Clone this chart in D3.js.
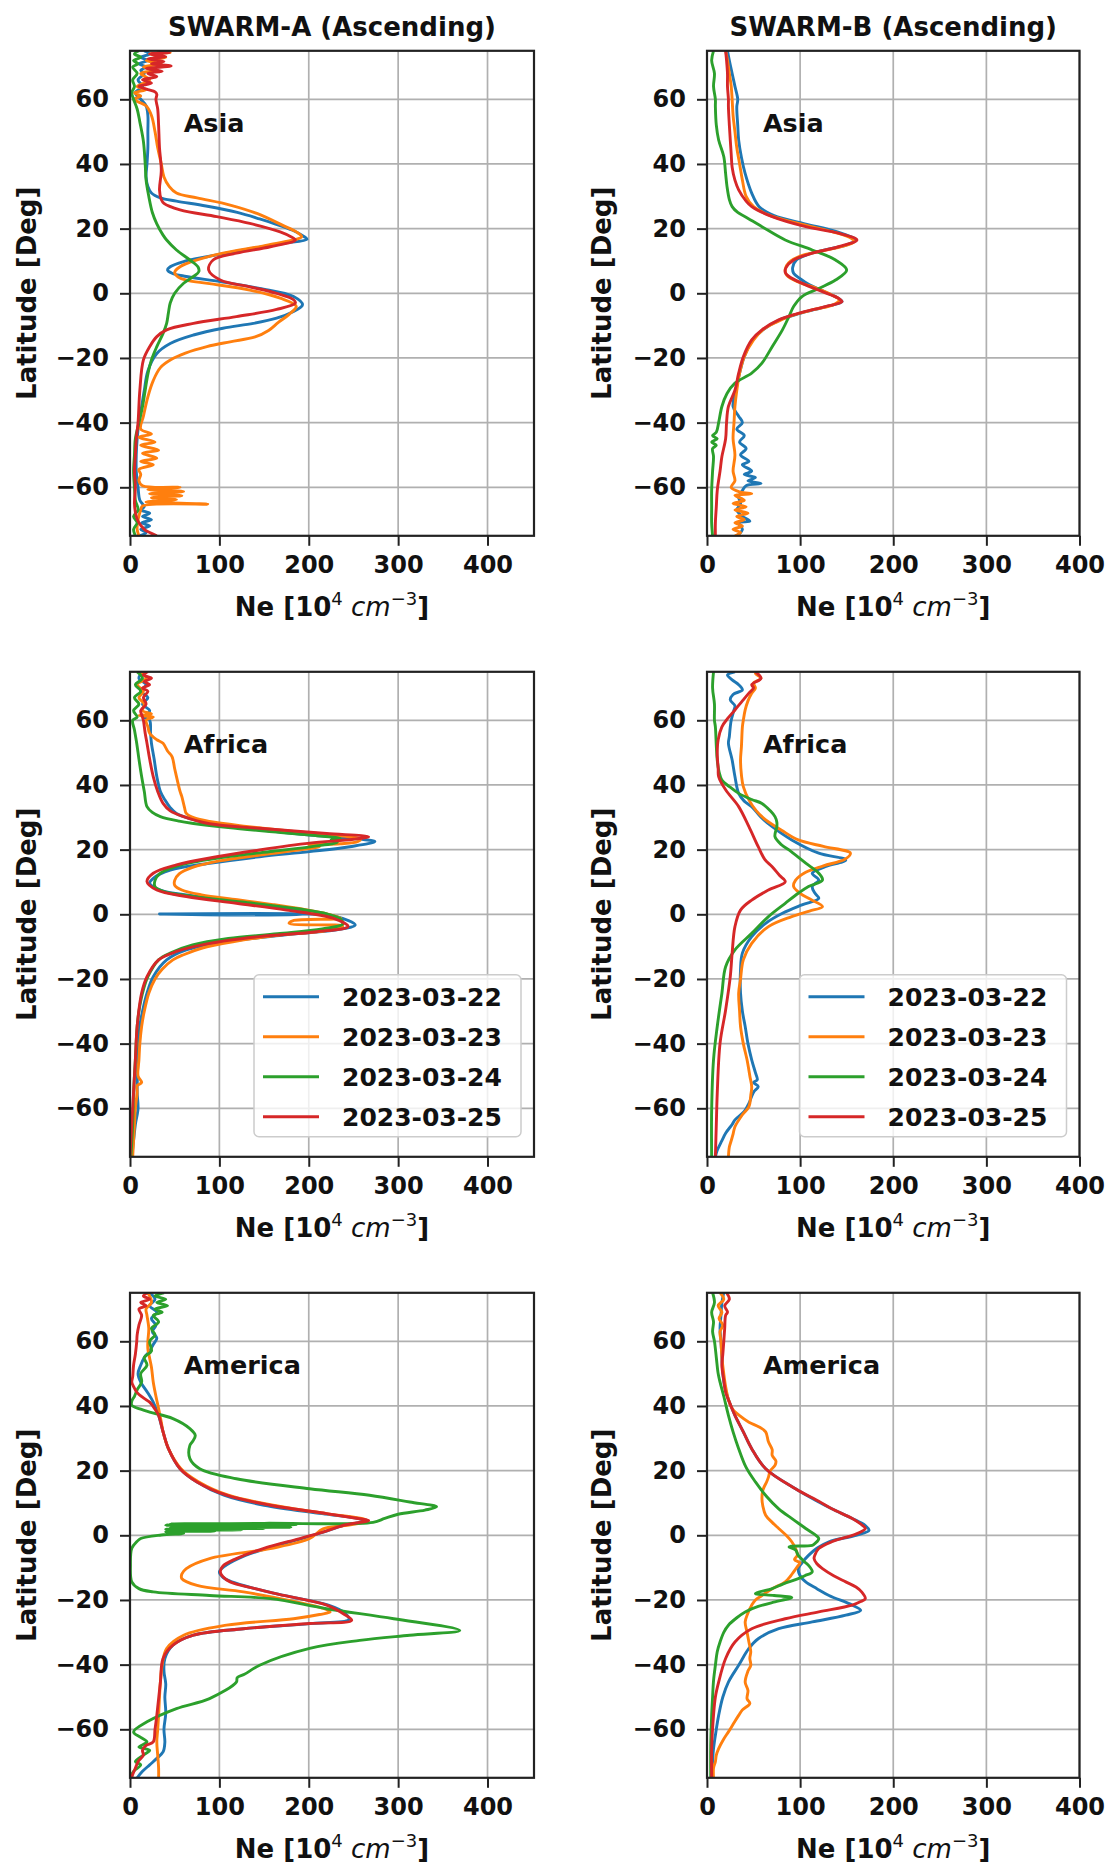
<!DOCTYPE html>
<html>
<head>
<meta charset="utf-8">
<style>
  body { margin: 0; background: #fff; }
  svg { display: block; font-family: 'DejaVu Sans', sans-serif; }
  .tick text { font: bold 24px 'DejaVu Sans', sans-serif; fill: #111; }
  .tick line { stroke: #222; stroke-width: 2; }
  .grid line { stroke: #b0b0b0; stroke-width: 1.7; }
  .frame { fill: none; stroke: #222; stroke-width: 2.2; }
  .title { font-size: 26px; font-weight: bold; fill: #111; }
  .axis-label { font-size: 26px; font-weight: bold; fill: #111; }
  .region { font-size: 25.5px; font-weight: bold; fill: #111; }
  .legend-label { font-size: 25px; font-weight: bold; fill: #111; }
</style>
</head>
<body>
<svg width="1112" height="1868"></svg>

<script src="https://d3js.org/d3.v7.min.js"></script>
<script>

// ---- data: [latitude (deg), Ne (1e4 cm^-3)] ----
const dates = ["2023-03-22", "2023-03-23", "2023-03-24", "2023-03-25"];
const colors = ["#1f77b4", "#ff7f0e", "#2ca02c", "#d62728"];
const latTicks = [-60, -40, -20, 0, 20, 40, 60];
const neTicks = [0, 100, 200, 300, 400];
const satellites = ["SWARM-A (Ascending)", "SWARM-B (Ascending)"];
const regions = ["Asia", "Africa", "America"];

// SWARM-A, Asia
const asiaA22 = [[75,16],[74,22],[73,12],[72,20],[71,10],[70,18],[69,12],[68,16],[66,9],[64,14],[62,6],[60,12],[58,18],[55,20],[50,20],[45,20],[40,19],[36,18],[33,20],[31,24],[29.5,34],[28.5,52],[27,85],[25,120],[23,145],[21.5,162],[19.5,182],[17.5,195],[16.7,198],[15.5,172],[14.5,150],[13,119],[11.3,86],[9.8,60],[8.2,45],[7.2,42],[6.2,47],[5.2,63],[3.6,101],[1.5,145],[-1,183],[-3.6,193],[-6,180],[-7.7,164],[-9.3,138],[-10.8,104],[-12.9,71],[-15.5,45],[-18.6,30],[-24,20],[-30,16],[-35,13],[-40,10],[-45,8],[-50,7],[-55,7],[-60,9],[-64,11],[-66,16],[-67,12],[-68,22],[-69,14],[-70,24],[-71,13],[-72,22],[-73,12],[-74,18],[-75,10]];
const asiaA23 = [[75,30],[74.5,45],[74,22],[73,40],[72,18],[71,35],[70,15],[69,28],[68,12],[66,22],[64,8],[63,18],[62,5],[61,12],[60,4],[58,18],[55,24],[50,28],[45,31],[40,35],[36,38],[33,44],[31,52],[29.5,75],[27.3,112],[24.7,142],[21,171],[19,186],[17.5,192],[15,155],[12.4,104],[10.3,75],[8.2,56],[6.5,50],[5,54],[4,64],[3,89],[1,134],[-1.5,168],[-4,186],[-6.5,178],[-9,166],[-11.5,155],[-13.5,140],[-15,112],[-16.5,86],[-18.5,62],[-20.5,46],[-23,34],[-27,26],[-32,20],[-38,15],[-42,12],[-43.5,24],[-44.5,10],[-46,28],[-47,12],[-48.5,32],[-49.5,14],[-51,30],[-52,12],[-53,26],[-54.5,10],[-56,12],[-58,10],[-59.5,14],[-60,56],[-60.7,20],[-61.3,60],[-62,22],[-62.6,58],[-63.2,24],[-63.8,52],[-64.5,18],[-65.2,87],[-65.8,14],[-67,12],[-70,9],[-73,8],[-75,10]];
const asiaA24 = [[75,10],[74,5],[73,12],[72,4],[71,9],[70,3],[68,8],[66,3],[64,5],[62,2],[60,4],[57,8],[53,11],[47,15],[40,17],[35,18],[30,21],[25,25],[21.5,30],[18,37],[16.5,41],[13.4,52],[10.3,67],[8.2,76],[6.7,77],[5.2,71],[3.1,60],[0,50],[-3,45],[-6,43],[-9.3,41],[-12.4,37],[-16.5,30],[-20.6,24],[-25,20],[-30,17],[-35,14],[-40,10],[-45,6],[-50,5],[-55,4],[-60,5],[-64,6],[-67,9],[-69,4],[-71,8],[-73,4],[-75,6]];
const asiaA25 = [[75,32],[74.5,44],[74,22],[73.2,40],[72.5,20],[71.7,38],[71,24],[70.3,46],[69.5,18],[68.7,36],[68,20],[67,30],[66,14],[65,24],[64,10],[63,20],[62.3,28],[61.5,30],[60,29],[57,31],[52,32],[45,33],[38,35],[32,33],[29,35],[27.8,38],[25.8,56],[23.7,97],[21.6,134],[19,168],[17.5,180],[16.5,185],[14.4,157],[12.4,119],[10.3,93],[7.2,88],[4.1,101],[2,134],[0,164],[-2,183],[-3,185],[-5,164],[-7.2,119],[-9.3,71],[-11.3,41],[-13.4,30],[-16.5,22],[-20.6,15],[-30,11],[-40,9],[-45,7],[-50,6],[-55,5],[-60,6],[-65,5],[-69,7],[-71,10],[-73,16],[-74,22],[-75,30]];

// SWARM-B, Asia
const asiaB22 = [[75,22],[72,24],[68,27],[64,30],[60,33],[57.7,32],[52,33],[47.4,34],[42,37],[37,41],[31,48],[26.8,56],[24,72],[21.5,105],[19,140],[17,158],[16.5,160],[15,150],[13.5,128],[12,108],[10.3,96],[8,92],[6.2,93],[4.5,100],[2.6,110],[0.5,126],[-1.5,141],[-2.6,145],[-4.1,128],[-6.2,100],[-8.2,78],[-11.3,60],[-14.4,49],[-19.6,40],[-24.7,35],[-30,31],[-35,28],[-38,34],[-40,38],[-42,32],[-44,40],[-46,35],[-48,42],[-50,36],[-52,45],[-53,38],[-55,48],[-56,40],[-57,52],[-58,44],[-58.8,58],[-59.5,42],[-61,38],[-63,34],[-65,36],[-67,32],[-69,38],[-70.5,46],[-71,34],[-73,38],[-75,32]];
const asiaB23 = [[75,20],[72,22],[68,24],[64,26],[60,27],[55,28],[50,30],[45,32],[40,35],[35,38],[30,42],[26.8,50],[24,68],[21.5,100],[19,135],[17,155],[16,158],[14.5,145],[13,122],[11.5,100],[9.5,88],[7.5,84],[5.5,86],[3.5,98],[1.5,118],[-0.5,134],[-2,142],[-3.5,136],[-5,115],[-7,90],[-9,74],[-11.3,60],[-14.4,50],[-19.6,40],[-24.7,35],[-30,32],[-35,30],[-40,29],[-45,28],[-50,30],[-55,28],[-58,30],[-60,26],[-61.5,36],[-62,48],[-62.5,30],[-64,40],[-65,28],[-66,42],[-67,30],[-68,44],[-69,32],[-70,40],[-71,30],[-72,38],[-73,28],[-74,36],[-75,30]];
const asiaB24 = [[75,7],[72,5],[68,8],[64,7],[60,9],[57.7,9],[52,10],[47.4,12.5],[42.3,18],[37,20],[33,21.5],[29,24],[26.8,27],[25,33],[23.7,41],[20.6,59],[16.5,84],[13.4,113],[10.3,138],[7.2,150],[4.1,138],[1.5,120],[-1,102],[-4.1,93],[-7.2,88],[-11.3,81],[-16.5,70],[-21.6,59],[-24.7,48],[-27.8,30],[-31,21.5],[-35,16],[-40,12.5],[-43,10],[-44,6],[-45,11],[-46,5],[-47,10],[-48,6],[-50.5,7],[-55,6],[-61,5],[-66,5],[-71,5],[-75,6]];
const asiaB25 = [[75,20],[72,21],[68,22],[64,22],[60,23],[57.7,23],[52,24],[47.4,25],[43,26],[39,27],[35,30],[32,34],[28.5,42],[26.8,48],[23.7,70],[20.6,106],[18.6,141],[16.5,161],[14.4,141],[12.4,113],[10.3,93],[8,85],[6.5,84],[5.2,88],[2.6,106],[0.5,124],[-1.5,141],[-2.6,145],[-4.1,127],[-6.2,98],[-8.2,77],[-11.3,59],[-14.4,48],[-19.6,39],[-24.7,34],[-30,30],[-35,23],[-40,21],[-45,20],[-50.5,16],[-55,14],[-61,11],[-66,10],[-71,9],[-75,9]];

// SWARM-A, Africa
const africaA22 = [[75,14],[73,10],[71,18],[69,12],[67,20],[65,14],[63,22],[61,16],[60,22],[56,23],[52.9,24],[48,27],[42.6,30],[38,34],[35.4,39],[33,45],[31.2,52],[29.5,68],[28.1,89],[26.1,145],[24.5,201],[23.5,246],[22.5,274],[20.9,246],[19.4,201],[17.8,145],[15.8,89],[13.7,45],[11.1,26],[9.6,22],[7.5,34],[5.5,75],[3.4,134],[1.3,186],[0.15,200],[0.1,33],[0.05,204],[-0.7,231],[-3.3,252],[-4.8,231],[-6.4,172],[-8.5,108],[-11,63],[-14.1,41],[-19.3,26],[-24.4,19],[-30,14],[-34.7,11],[-45,9],[-55,8],[-60,9],[-65,6],[-70,4],[-75,2]];
const africaA23 = [[75,12],[73,18],[71,8],[69,15],[67,10],[65,16],[63,14],[62,24],[61.5,10],[61,26],[60,18],[58,20],[56,22],[54,30],[52.9,37],[50.5,42],[48.8,47],[45,50],[42.6,52],[38,56],[36.4,58],[33,61],[31.2,63],[29.8,72],[28.7,89],[27.2,130],[26,170],[25,210],[24,245],[23.3,258],[22.5,255],[21.8,235],[21.5,200],[21,212],[20,192],[18.5,150],[16.5,100],[14.5,70],[12.5,55],[10.5,50],[9,50],[7.5,58],[6,80],[4.5,120],[3,160],[1.5,195],[0,222],[-1.2,236],[-2,182],[-2.8,178],[-3.6,238],[-5,220],[-6.5,165],[-8.5,115],[-10.5,80],[-12.5,60],[-14.1,48],[-17,36],[-20,28],[-24.4,21],[-30,16],[-34.7,13],[-40,11],[-45,10],[-50,9],[-52,13],[-53,8],[-55,8],[-60,6],[-65,5],[-70,4],[-75,3]];
const africaA24 = [[75,8],[73,14],[71,6],[69,12],[67,5],[65,10],[63,4],[61,8],[60,3],[57,5],[52.9,7.5],[48,10],[42.6,13],[38,16],[33.3,19],[31.5,25],[30.2,34],[28.8,55],[28.1,71],[26.8,110],[25.5,160],[24.3,210],[23.5,235],[23,225],[22.3,232],[21,205],[19.5,160],[18,115],[16.3,75],[14.5,48],[12.5,33],[10.5,28],[8.5,28],[7,38],[5.5,70],[3.8,125],[2,180],[0,222],[-1.5,236],[-3,238],[-4.5,215],[-6,165],[-7.5,110],[-9.5,70],[-12,45],[-14.1,32],[-19.3,20],[-24.4,14],[-30,10],[-34.7,8],[-45,6],[-55,4],[-65,3],[-75,1]];
const africaA25 = [[75,20],[74,15],[73,24],[72,16],[71,22],[70,14],[69,20],[67,15],[65,18],[63,12],[61,14],[60,15],[56,17],[52.9,19],[48,22],[42.6,26],[38,31],[34.3,37],[32,45],[30.2,60],[28,89],[26.6,145],[25,220],[24,267],[23.2,250],[22,201],[19.9,145],[17.8,97],[15.3,52],[12.7,26],[10.1,19],[7.5,30],[5.5,63],[3.4,119],[1.3,175],[-1.2,227],[-3.8,244],[-5.4,209],[-6.9,145],[-9,89],[-11.5,52],[-14.1,32],[-19.3,19],[-24.4,13],[-34.7,8],[-45,6],[-55,4],[-65,2],[-75,0]];

// SWARM-B, Africa
const africaB22 = [[75,30],[74,22],[72.5,27],[71,34],[69.4,38],[68,28],[66.3,25],[64.5,30],[63.2,29],[60,26],[58,25],[55,24],[52.9,23],[47.7,27],[42.6,30],[37.4,34],[35,40],[33.3,48],[30,58],[27.1,70],[23,91],[18.9,120],[16.8,149],[14.7,127],[12.7,113],[10.6,120],[8.6,113],[6.5,116],[4.9,120],[2.9,102],[0.3,81],[-2.8,63],[-6.9,48],[-12,38],[-17.2,36],[-24.4,36],[-30,38],[-34.7,41],[-40,44],[-45,48],[-49,52],[-51.2,54],[-52,50],[-53.3,55],[-55,50],[-58.5,45],[-61,40],[-63.6,30],[-65,27],[-67.7,20],[-70,16],[-73,11],[-75,9]];
const africaB23 = [[75,55],[74.5,52],[73,58],[71.5,50],[70,52],[68.4,48],[66,44],[63.2,41],[60,39],[58,38],[52,37],[47.7,36],[43,37],[39.5,39],[35.4,45],[32,53],[29.2,63],[26,80],[23,98],[21,125],[18.9,154],[17,148],[15,125],[13,106],[10.5,95],[8.6,93],[6.5,100],[4.5,112],[2.4,124],[1,110],[-0.7,91],[-3.8,66],[-9,48],[-14.1,39],[-20,36],[-24.4,34],[-30,35],[-34.7,36],[-40,39],[-45,43],[-50,46],[-53.3,48],[-56,47],[-59.5,45],[-62,38],[-65.7,30],[-68,28],[-70,26],[-72,24],[-75,23]];
const africaB24 = [[75,7],[70,6],[65,8],[60,8],[58,9],[52,10],[47.7,11],[44,13],[41.5,16],[39.5,24],[37.4,34],[35.5,48],[34.3,59],[32,68],[30.2,73],[28.5,75],[27.1,75],[24,73],[21.5,80],[19.9,88],[15.8,106],[12.7,120],[10.6,124],[8.6,109],[6.5,98],[3.4,84],[-0.7,66],[-5.9,48],[-11,30],[-16.2,20],[-24.4,16],[-34.7,11],[-45,7],[-60.5,5],[-75,5]];
const africaB25 = [[75,52],[73,58],[71,48],[70,50],[68.4,45],[66,38],[63.2,30],[60.5,22],[58,16],[54,12],[49.8,11],[45,12],[42.6,12.5],[38.5,20],[33.3,34],[27.1,45],[20.9,55],[17,62],[14.7,70],[12,78],[10.1,84],[7.5,66],[4.4,48],[1.3,36],[-3.8,30],[-12,27],[-19.3,25],[-29.6,20],[-39.9,14],[-55.4,11],[-65,10],[-75,9]];

// SWARM-A, America
const americaA22 = [[75,22],[73,28],[71,22],[69,30],[67,24],[65,29],[63,25],[61,30],[59,26],[57,22],[55,16],[52.6,12],[50,9],[47.4,12],[44,20],[41.2,26],[37.1,32],[32,37],[26.8,43],[20.6,56],[16.5,75],[12.4,105],[9.3,150],[6.7,215],[5,258],[4.4,262],[3.1,239],[1,216],[-1,192],[-4.1,152],[-7.2,121],[-9.5,106],[-11.3,100],[-13,104],[-14.4,114],[-16.5,140],[-18.6,172],[-21.6,222],[-24,240],[-26,245],[-27.3,201],[-28.9,127],[-30.9,71],[-34,48],[-38.1,39],[-42,38],[-46,40],[-50,39],[-55,40],[-60,38],[-64,39],[-67,37],[-69,30],[-71,22],[-73,14],[-75,8]];
const americaA23 = [[75,20],[72,24],[70,18],[68,19],[64,21],[60,20],[57.7,20],[52,24],[47.4,26],[43,29],[39.2,32],[35,35],[32,37],[26.8,43],[20.6,57],[16.5,77],[12.4,110],[9.3,160],[6.7,220],[5,262],[4.4,266],[3,240],[2,216],[-1,201],[-4.1,157],[-7.2,89],[-10.3,63],[-12,58],[-13.4,58],[-15.5,75],[-17.5,127],[-20.6,186],[-22.5,215],[-23.7,224],[-24.5,212],[-25.8,183],[-27.8,108],[-30.9,60],[-35,41],[-40,36],[-45.4,34],[-50,33],[-55.7,32],[-60,31],[-63.9,30],[-68,31],[-72,32],[-75,32]];
const americaA24 = [[75,38],[74,28],[73,40],[72,30],[71,42],[70,28],[69,36],[68,26],[66,32],[64,24],[62,28],[60,22],[57,24],[55,16],[52.6,19],[50,12],[47.4,13],[45,8],[43,5],[41.5,2],[40.2,2],[39,12],[38.1,22],[36.1,48],[33,67],[30.9,73],[29,70],[27.8,67],[23.7,67],[20.6,78],[17.5,119],[14.4,201],[12.4,268],[10.3,313],[8.8,343],[7.8,330],[6.5,300],[5.2,285],[4,272],[3.7,150],[3.5,45],[3.3,186],[3.1,40],[2.9,170],[2.7,50],[2.5,180],[2.3,45],[2.1,150],[1.9,40],[1.7,125],[1.5,50],[1.3,95],[1.1,40],[0.6,60],[0.1,35],[-1,12],[-2,7.5],[-4,2],[-9.3,0.5],[-14.4,2],[-16.5,10],[-17.5,26],[-18.6,89],[-19.6,157],[-22.7,220],[-25.8,295],[-29.4,369],[-30.9,313],[-32.5,257],[-35,201],[-40.2,145],[-43,128],[-44,120],[-45.4,119],[-50.5,89],[-53.6,52],[-57.7,19],[-60.8,4],[-62.5,12],[-63.9,19],[-65.5,10],[-66.5,22],[-68,15],[-70,6],[-71,12],[-73,4],[-75,0]];
const americaA25 = [[75,20],[74,15],[73,22],[72,12],[71,18],[70,10],[68,13],[65,10],[62,8],[59.8,7.5],[56,6],[52.6,4],[49,3],[47.4,2],[46,4],[44.3,7.5],[42.5,15],[41.2,22],[39,28],[37.1,32],[32,37],[26.8,43],[20.6,56],[16.5,75],[12.4,108],[9.3,157],[6.7,220],[5.2,255],[4.6,267],[3.1,239],[1,216],[-1,190],[-4.1,149],[-7.2,119],[-9.5,104],[-11.3,101],[-12.8,104],[-14.4,112],[-16.5,140],[-18.6,172],[-21.6,220],[-24.5,240],[-26.3,248],[-27.3,201],[-28.9,127],[-30.9,71],[-34,48],[-38.1,37],[-45.4,34],[-55.7,30],[-60,28],[-63.9,26],[-65,18],[-66.5,14],[-68,15],[-70,9],[-72,6],[-74,3],[-75,2]];

// SWARM-B, America
const americaB22 = [[75,18],[72,16],[68,15],[64,14],[60,15],[55,16],[50,17],[46,19],[42,23],[37.1,30],[32,39],[26.8,48],[20.6,63],[14.4,95],[10,122],[8.2,134],[5.2,156],[3,170],[1.5,174],[0,160],[-2,131],[-4,118],[-6.2,109],[-8.5,102],[-10.3,98],[-12.5,100],[-14.4,106],[-16.5,118],[-18.6,131],[-21.6,156],[-23.2,165],[-24.7,149],[-26.8,113],[-28.9,77],[-32,55],[-35,45],[-40.2,34],[-45.4,23],[-50,17],[-55.7,12.5],[-60,10],[-66,7],[-70,6],[-75,5]];
const americaB23 = [[75,14],[73,18],[71,12],[69,16],[67,13],[65,17],[63,14],[60,15],[55,16],[50,18],[46,20],[42,23],[39.2,27],[37,35],[35,45],[33.5,56],[32,63],[28.9,66],[26.5,70],[24.7,70],[23,74],[21.6,73],[20,68],[18,66],[16.5,64],[14,60],[11.3,59],[9,60],[6.2,63],[4,70],[2.1,77],[0,85],[-2,91],[-4,95],[-6.2,97],[-7.5,94],[-8.5,100],[-9.3,98],[-10.5,95],[-11.3,93],[-12.5,90],[-14.4,84],[-16.5,70],[-18.6,59],[-20,52],[-21.6,48],[-24,44],[-26.8,41],[-30,43],[-33,45],[-36,47],[-38,46],[-40.2,47],[-42,44],[-45.4,41],[-48,44],[-50.5,43],[-52,46],[-54,38],[-55.7,34],[-58,29],[-60.8,23],[-63,18],[-66,12.5],[-68,10],[-70,9],[-72,7],[-75,7]];
const americaB24 = [[75,6],[72,8],[69,5],[66,7],[63,6],[60,8],[55,10],[50,12],[47.4,14],[43,18],[37.1,23],[32,28],[26.8,34],[21,42],[16.5,52],[12,64],[8.2,77],[5,92],[2.1,106],[-1,120],[-2.5,116],[-3.1,113],[-3.4,90],[-3.6,88],[-4.5,95],[-6.2,98],[-8,104],[-9.3,109],[-11.3,113],[-12.5,105],[-13.4,98],[-15,82],[-16.5,70],[-18,52],[-18.6,72],[-19.3,91],[-20.1,80],[-20.6,73],[-22,55],[-23.7,41],[-25.5,32],[-27.8,23],[-30,18],[-33,14],[-36,11],[-40.2,9],[-45,7],[-50,6],[-55.7,5],[-65,4],[-75,4]];
const americaB25 = [[75,21],[73,24],[71,19],[69,22],[68,20],[64,19],[59.8,18],[56,17],[52.6,16],[48,18],[44.3,20],[40.5,25],[37.1,30],[32,39],[26.8,48],[20.6,63],[14.4,95],[10.5,120],[8.2,134],[5.2,156],[3.5,165],[2.1,170],[1,165],[0,156],[-2,134],[-4.1,120],[-6,116],[-7.2,115],[-8.8,118],[-10.3,124],[-12.5,136],[-14.4,149],[-16,160],[-17.5,166],[-19.6,170],[-20.5,165],[-21.6,156],[-23.7,120],[-25.8,84],[-28.9,48],[-33,30],[-38.1,20],[-45.4,12.5],[-50,9],[-55.7,7],[-66,5],[-75,5]];

// panels: row = region, col = satellite
const panels = [
    { row: 0, col: 0, series: [asiaA22, asiaA23, asiaA24, asiaA25] },
    { row: 0, col: 1, series: [asiaB22, asiaB23, asiaB24, asiaB25] },
    { row: 1, col: 0, series: [africaA22, africaA23, africaA24, africaA25] },
    { row: 1, col: 1, series: [africaB22, africaB23, africaB24, africaB25] },
    { row: 2, col: 0, series: [americaA22, americaA23, americaA24, americaA25] },
    { row: 2, col: 1, series: [americaB22, americaB23, americaB24, americaB25] }
];

// ---- layout ----
let cols = [
    { left: 130, right: 534, neMax: 452, ylabX: 27 },
    { left: 707, right: 1079.5, neMax: 400, ylabX: 602 }
];
let rowTop = [50.8, 671.8, 1292.8];
let plotH = 485;

let svg = d3.select("svg");
let fmtLat = d => d < 0 ? "\u2212" + Math.abs(d) : String(d);

panels.forEach(function (p, i) {
    let c = cols[p.col];
    let top = rowTop[p.row];
    let bottom = top + plotH;

    let x = d3.scaleLinear().domain([0, c.neMax]).range([c.left, c.right]);
    let y = d3.scaleLinear().domain([-75, 75]).range([bottom, top]);

    // grid
    let grid = svg.append("g").attr("class", "grid");
    grid.selectAll(".gx")
        .data(neTicks.filter(t => t <= c.neMax))
        .join("line")
        .attr("x1", d => x(d)).attr("x2", d => x(d))
        .attr("y1", top).attr("y2", bottom);
    grid.selectAll(".gy")
        .data(latTicks)
        .join("line")
        .attr("x1", c.left).attr("x2", c.right)
        .attr("y1", d => y(d)).attr("y2", d => y(d));

    // clip
    svg.append("clipPath").attr("id", "clip" + i)
        .append("rect")
        .attr("x", c.left).attr("y", top)
        .attr("width", c.right - c.left).attr("height", plotH);

    // profiles
    let line = d3.line()
        .x(d => x(d[1]))
        .y(d => y(d[0]))
        .curve(d3.curveCatmullRom.alpha(0.5));

    svg.append("g")
        .attr("clip-path", `url(#clip${i})`)
        .selectAll("path")
        .data(p.series)
        .join("path")
        .attr("fill", "none")
        .attr("stroke", (d, k) => colors[k])
        .attr("stroke-width", 2.9)
        .attr("stroke-linejoin", "round")
        .attr("d", line);

    // axes
    svg.append("g")
        .attr("transform", `translate(0,${bottom})`)
        .call(d3.axisBottom(x).tickValues(neTicks.filter(t => t <= c.neMax))
            .tickSize(10).tickPadding(10).tickFormat(d3.format("d")))
        .call(g => g.select(".domain").remove());

    svg.append("g")
        .attr("transform", `translate(${c.left},0)`)
        .call(d3.axisLeft(y).tickValues(latTicks)
            .tickSize(10).tickPadding(11).tickFormat(fmtLat))
        .call(g => g.select(".domain").remove());

    // frame
    svg.append("rect").attr("class", "frame")
        .attr("x", c.left).attr("y", top)
        .attr("width", c.right - c.left).attr("height", plotH);

    // region label
    svg.append("text").attr("class", "region")
        .attr("x", x(60)).attr("y", y(50))
        .text(regions[p.row]);

    // axis labels
    let cx = (c.left + c.right) / 2;
    let xl = svg.append("text").attr("class", "axis-label")
        .attr("x", cx).attr("y", bottom + 80)
        .attr("text-anchor", "middle");
    xl.append("tspan").text("Ne [10");
    xl.append("tspan").attr("dy", -11).attr("font-size", 18).attr("font-weight", "normal").text("4");
    xl.append("tspan").attr("dy", 11).attr("font-style", "italic").attr("font-weight", "normal").text("\u00a0cm");
    xl.append("tspan").attr("dy", -11).attr("font-size", 18).attr("font-weight", "normal").text("\u22123");
    xl.append("tspan").attr("dy", 11).text("]");

    svg.append("text").attr("class", "axis-label")
        .attr("transform", `translate(${c.ylabX},${top + plotH / 2}) rotate(-90)`)
        .attr("text-anchor", "middle")
        .attr("dy", "0.35em")
        .text("Latitude [Deg]");

    // column titles on top row
    if (p.row == 0) {
        svg.append("text").attr("class", "title")
            .attr("x", cx).attr("y", top - 15)
            .attr("text-anchor", "middle")
            .text(satellites[p.col]);
    }

    // legend in the middle row
    if (p.row == 1) {
        let lg = svg.append("g")
            .attr("transform", `translate(${c.right - 280},${bottom - 182})`);
        lg.append("rect")
            .attr("width", 267).attr("height", 162)
            .attr("rx", 5)
            .attr("fill", "white").attr("fill-opacity", 0.8)
            .attr("stroke", "#cccccc").attr("stroke-width", 1.5);
        dates.forEach(function (dt, k) {
            let yy = 22 + k * 40;
            lg.append("line")
                .attr("x1", 9).attr("x2", 65)
                .attr("y1", yy).attr("y2", yy)
                .attr("stroke", colors[k]).attr("stroke-width", 3);
            lg.append("text").attr("class", "legend-label")
                .attr("x", 88).attr("y", yy)
                .attr("dy", "0.36em")
                .text(dt);
        });
    }
});

</script>
</body>
</html>
